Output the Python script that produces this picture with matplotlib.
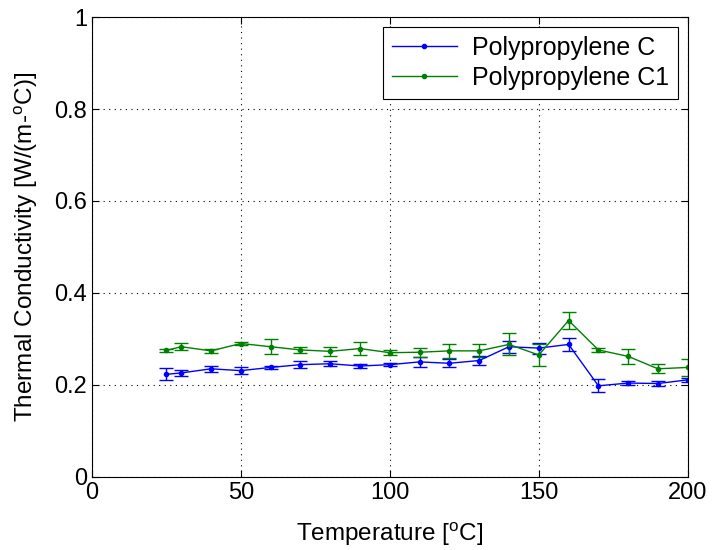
import matplotlib
matplotlib.use("Agg")
import matplotlib.pyplot as plt
from matplotlib.lines import Line2D

temps = [25, 30, 40, 50, 60, 70, 80, 90, 100, 110, 120, 130, 140, 150, 160, 170, 180, 190, 200]

pp_c = [0.223, 0.226, 0.235, 0.231, 0.238, 0.244, 0.246, 0.241, 0.244, 0.250,
        0.247, 0.253, 0.283, 0.280, 0.288, 0.198, 0.204, 0.203, 0.211]
pp_c_err = [0.013, 0.007, 0.007, 0.008, 0.004, 0.008, 0.005, 0.004, 0.004, 0.011,
            0.009, 0.010, 0.013, 0.012, 0.0145, 0.014, 0.005, 0.005, 0.004]

pp_c1 = [0.275, 0.283, 0.274, 0.290, 0.283, 0.276, 0.273, 0.279, 0.270, 0.271,
         0.274, 0.274, 0.288, 0.265, 0.340, 0.276, 0.262, 0.235, 0.238]
pp_c1_err = [0.004, 0.008, 0.005, 0.003, 0.016, 0.007, 0.010, 0.015, 0.005, 0.010,
             0.015, 0.014, 0.024, 0.025, 0.018, 0.004, 0.017, 0.010, 0.019]

labels = ["Polypropylene C", "Polypropylene C1"]
colors = [(0, 0, 1), (0, 0.5, 0)]

plt.rcParams["font.family"] = ["Liberation Sans", "DejaVu Sans"]
plt.rcParams["mathtext.fontset"] = "custom"
plt.rcParams["mathtext.rm"] = "Liberation Sans"

fig = plt.figure(figsize=(7.12, 5.5), dpi=100)
ax = fig.add_axes([0.129, 0.133, 0.837, 0.836])

for y, e, c, lab in zip([pp_c, pp_c1], [pp_c_err, pp_c1_err], colors, labels):
    ax.errorbar(temps, y, yerr=e, color=c, marker=".", markersize=6,
                lw=1, elinewidth=1, capsize=5, label=lab)

ax.set_xlim(0, 200)
ax.set_ylim(0, 1)
ax.set_xticks([0, 50, 100, 150, 200])
ax.set_yticks([0, 0.2, 0.4, 0.6, 0.8, 1])
ax.set_yticklabels(["0", "0.2", "0.4", "0.6", "0.8", "1"])
ax.grid(True, color="black", linestyle=(0, (1, 4)), linewidth=0.8)
ax.tick_params(direction="in", labelsize=17, top=True, right=True, length=5)
for s in ax.spines.values():
    s.set_linewidth(0.8)

ax.set_xlabel(r"Temperature [$^{\mathrm{o}}$C]", fontsize=17.5, labelpad=12)
ax.set_ylabel(r"Thermal Conductivity [W/(m-$^{\mathrm{o}}$C)]", fontsize=17.5, labelpad=10)

handles = [Line2D([], [], color=c, marker=".", markersize=6, lw=1) for c in colors]
leg = ax.legend(handles, labels, loc="upper right", fontsize=18, fancybox=False,
                framealpha=1, edgecolor="black", borderaxespad=0.4, handlelength=2.6,
                borderpad=0.35, labelspacing=0.25, handletextpad=0.6)
leg.get_frame().set_linewidth(0.8)

fig.savefig("out.png", dpi=100, facecolor="white")
